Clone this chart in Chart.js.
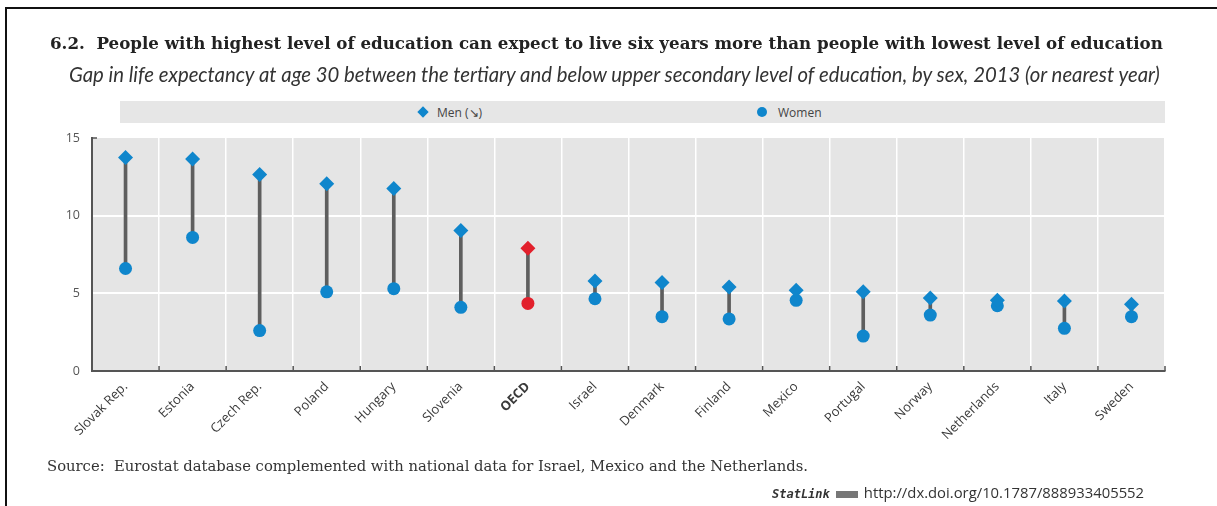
<!DOCTYPE html>
<html>
<head>
<meta charset="utf-8">
<script src="https://cdn.jsdelivr.net/npm/chart.js@4.4.1/dist/chart.umd.min.js"></script>
<style>
  html, body { margin: 0; padding: 0; background: #fff; }
  body { width: 1217px; height: 506px; position: relative; overflow: hidden; }
  #frame { position: absolute; left: 5px; top: 7px; right: -10px; bottom: -10px;
           border-top: 2px solid #111; border-left: 2px solid #111; }
  #chart { position: absolute; left: 0; top: 0; }
  .txt { position: absolute; white-space: nowrap; }
  #title { left: 50px; top: 33px; font-family: "DejaVu Serif", serif; font-weight: bold; font-size: 16px; color: #222; }
  #subtitle { left: 69px; top: 62px; font-family: Lato, "Open Sans", sans-serif; font-style: italic; font-size: 16px; color: #333; }
  #legend { position: absolute; left: 120px; top: 101px; width: 1045px; height: 22px; background: #e6e6e6; }
  .lg { position: absolute; top: 3px; font-family: "Open Sans", sans-serif; font-size: 12px; color: #444; }
  .dia { position: absolute; width: 8px; height: 8px; background: #0f86cc; transform: rotate(45deg); top: 7px; }
  .dot { position: absolute; width: 10px; height: 10px; border-radius: 50%; background: #0f86cc; top: 6px; }
  #source { left: 47px; top: 457px; font-family: "DejaVu Serif", serif; font-size: 13px; color: #333; }
  #statlink { left: 772px; top: 482px; color: #333; }
  #statlink b { font-family: "DejaVu Sans Mono", monospace; font-style: italic; font-size: 12px; margin-right: 6px; }
  #statlink i.ic { display: inline-block; width: 22px; height: 7px; background: #777; margin-right: 6px; vertical-align: middle; }
  #url { font-family: "Open Sans", sans-serif; font-size: 13px; }
</style>
</head>
<body>
<div id="frame"></div>
<canvas id="chart" width="1217" height="506"></canvas>
<div id="title" class="txt">6.2.&nbsp; People with highest level of education can expect to live six years more than people with lowest level of education</div>
<div id="subtitle" class="txt">Gap in life expectancy at age 30 between the tertiary and below upper secondary level of education, by sex, 2013 (or nearest year)</div>
<div id="legend">
  <span class="dia" style="left:299px"></span><span class="lg" style="left:317px">Men (↘)</span>
  <span class="dot" style="left:637px"></span><span class="lg" style="left:658px">Women</span>
</div>
<div id="source" class="txt">Source:&nbsp; Eurostat database complemented with national data for Israel, Mexico and the Netherlands.</div>
<div id="statlink" class="txt"><b>StatLink</b><i class="ic"></i><span id="url">http://dx.doi.org/10.1787/888933405552</span></div>
<script>
const countries = ["Slovak Rep.", "Estonia", "Czech Rep.", "Poland", "Hungary", "Slovenia", "OECD",
  "Israel", "Denmark", "Finland", "Mexico", "Portugal", "Norway", "Netherlands", "Italy", "Sweden"];
const men = [13.75, 13.65, 12.65, 12.05, 11.75, 9.05, 7.9, 5.8, 5.7, 5.4, 5.2, 5.1, 4.7, 4.55, 4.5, 4.3];
const women = [6.6, 8.6, 2.6, 5.1, 5.3, 4.1, 4.35, 4.65, 3.5, 3.35, 4.55, 2.25, 3.6, 4.2, 2.75, 3.5];
const yTicks = [0, 5, 10, 15];

const blue = "#0f86cc";
const red = "#e2202c";
const pointColors = countries.map((c) => (c === "OECD" ? red : blue));

// squeeze a text line to the width it has in the picture
function fitWidth(id, target) {
  const el = document.getElementById(id);
  let size = parseFloat(getComputedStyle(el).fontSize);
  for (let i = 0; i < 4; i++) {
    size = size * target / el.getBoundingClientRect().width;
    el.style.fontSize = size + "px";
  }
}
fitWidth("title", 1113);
fitWidth("subtitle", 1091);
fitWidth("source", 761);
fitWidth("url", 280);

const plotBg = {
  id: "plotBg",
  beforeDraw(chart) {
    const { ctx, chartArea: a } = chart;
    ctx.save();
    ctx.fillStyle = "#e5e5e5";
    ctx.fillRect(a.left, a.top, a.right - a.left, a.bottom - a.top);
    ctx.restore();
  },
  afterDraw(chart) {
    // small inner tick marks on the category boundaries
    const { ctx, chartArea: a, scales: { x } } = chart;
    ctx.save();
    ctx.strokeStyle = "#555";
    ctx.lineWidth = 1.5;
    for (let i = 1; i <= countries.length; i++) {
      const px = i < countries.length
        ? (x.getPixelForValue(i - 1) + x.getPixelForValue(i)) / 2
        : a.right;
      ctx.beginPath();
      ctx.moveTo(px, a.bottom);
      ctx.lineTo(px, a.bottom - 5);
      ctx.stroke();
    }
    ctx.beginPath();
    ctx.moveTo(a.left, a.top);
    ctx.lineTo(a.left + 5, a.top);
    ctx.stroke();
    ctx.restore();
  },
};

new Chart(document.getElementById("chart"), {
  type: "bar",
  data: {
    labels: countries,
    datasets: [
      {
        label: "gap",
        data: countries.map((c, i) => [women[i], men[i]]),
        backgroundColor: "#5e5e5e",
        barThickness: 3,
        order: 3,
      },
      {
        type: "line",
        label: "Men",
        data: men,
        showLine: false,
        pointStyle: "rectRot",
        pointRadius: 7.5,
        pointBorderWidth: 0,
        pointBackgroundColor: pointColors,
        order: 1,
      },
      {
        type: "line",
        label: "Women",
        data: women,
        showLine: false,
        pointStyle: "circle",
        pointRadius: 6.5,
        pointBorderWidth: 0,
        pointBackgroundColor: pointColors,
        order: 2,
      },
    ],
  },
  options: {
    responsive: false,
    animation: false,
    devicePixelRatio: 1,
    layout: { padding: { top: 138, right: 52, bottom: 0, left: 0 } },
    plugins: { legend: { display: false }, tooltip: { enabled: false } },
    scales: {
      x: {
        offset: true,
        grid: { offset: true, color: "#ffffff", lineWidth: 1.5, drawTicks: false },
        border: { display: true, color: "#555", width: 2 },
        ticks: {
          autoSkip: false,
          minRotation: 45,
          maxRotation: 45,
          padding: 8,
          color: "#3a3a3a",
          font: (ctx) => ({
            family: "'Open Sans', sans-serif",
            size: 13,
            weight: ctx.tick && ctx.tick.label === "OECD" ? "bold" : "normal",
          }),
        },
        afterFit(scale) { scale.height = 135; },
      },
      y: {
        min: 0,
        max: 15,
        afterBuildTicks(scale) { scale.ticks = yTicks.map((v) => ({ value: v })); },
        grid: {
          color: (ctx) => (ctx.tick && (ctx.tick.value === 5 || ctx.tick.value === 10) ? "#ffffff" : "rgba(0,0,0,0)"),
          lineWidth: 2,
          drawTicks: false,
        },
        border: { display: true, color: "#555", width: 2 },
        ticks: { color: "#555", padding: 12, font: { family: "'Open Sans', sans-serif", size: 12.5 } },
        afterFit(scale) { scale.width = 92; },
      },
    },
  },
  plugins: [plotBg],
});
</script>
</body>
</html>
